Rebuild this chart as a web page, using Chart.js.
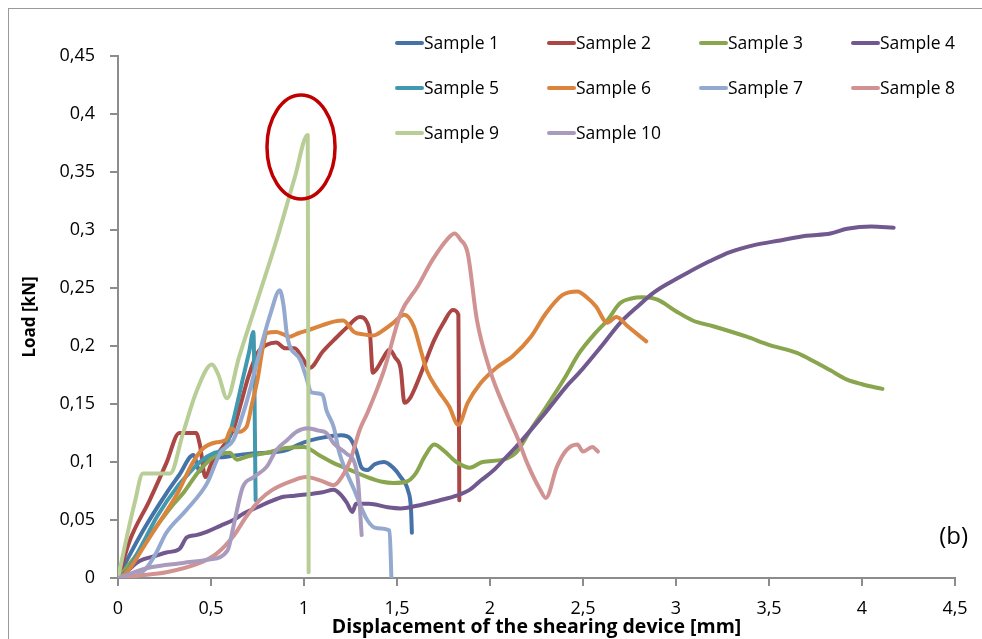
<!DOCTYPE html>
<html lang="en">
<head>
    <meta charset="UTF-8">
    <title>Load vs displacement</title>
    <script src="https://cdn.jsdelivr.net/npm/chart.js"></script>
    <style>
        body {
            margin: 0;
            padding: 0;
            background-color: #ffffff;
            overflow: hidden;
        }

        #frame {
            position: absolute;
            left: 8px;
            top: 8px;
            width: 1100px;
            height: 800px;
            border: 1px solid #9a9a9a;
            pointer-events: none;
        }

        canvas {
            position: absolute;
            left: 0;
            top: 0;
        }
    </style>
</head>
<body>
    <canvas id="chart" width="982" height="639"></canvas>
    <div id="frame"></div>

    <script>
        // data: [displacement mm, load kN]
        const sampleNames = ['Sample 1', 'Sample 2', 'Sample 3', 'Sample 4', 'Sample 5',
                             'Sample 6', 'Sample 7', 'Sample 8', 'Sample 9', 'Sample 10'];

        const sample1 = [[0,0],[0.05,0.016],[0.135,0.041],[0.26,0.073],[0.33,0.089],[0.405,0.106],[0.44,0.092],
            [0.48,0.103],[0.55,0.104],[0.6,0.105],[0.7,0.107],[0.8,0.108],[0.9,0.11],[1.0,0.117],[1.1,0.121],
            [1.2,0.123],[1.25,0.12],[1.28,0.11],[1.31,0.095],[1.34,0.093],[1.38,0.098],[1.43,0.1],[1.48,0.095],
            [1.52,0.087],[1.56,0.075],[1.575,0.06],[1.58,0.039]];

        const sample2 = [[0,0],[0.065,0.033],[0.17,0.067],[0.26,0.099],[0.33,0.125],[0.42,0.125],[0.44,0.115],
            [0.47,0.087],[0.5,0.098],[0.55,0.11],[0.62,0.128],[0.66,0.15],[0.7,0.173],[0.75,0.194],[0.8,0.201],
            [0.85,0.203],[0.9,0.198],[0.95,0.198],[0.99,0.19],[1.03,0.181],[1.1,0.195],[1.16,0.205],[1.23,0.216],
            [1.3,0.225],[1.34,0.22],[1.355,0.21],[1.37,0.177],[1.39,0.18],[1.42,0.188],[1.46,0.197],[1.49,0.19],
            [1.52,0.18],[1.54,0.151],[1.57,0.155],[1.6,0.165],[1.65,0.185],[1.7,0.205],[1.75,0.22],[1.8,0.231],
            [1.83,0.227],[1.835,0.067]];

        const sample3 = [[0,0],[0.1,0.02],[0.2,0.043],[0.3,0.064],[0.35,0.073],[0.44,0.093],[0.53,0.106],
            [0.6,0.108],[0.64,0.102],[0.7,0.105],[0.8,0.108],[0.9,0.112],[1.0,0.113],[1.08,0.106],[1.16,0.099],
            [1.25,0.093],[1.34,0.087],[1.42,0.083],[1.48,0.082],[1.55,0.083],[1.6,0.09],[1.65,0.105],[1.7,0.115],
            [1.75,0.11],[1.82,0.1],[1.89,0.095],[1.96,0.1],[2.07,0.102],[2.14,0.108],[2.22,0.128],[2.3,0.147],
            [2.4,0.172],[2.48,0.194],[2.56,0.21],[2.63,0.222],[2.7,0.237],[2.76,0.241],[2.82,0.242],[2.9,0.24],
            [3.0,0.23],[3.09,0.222],[3.2,0.217],[3.38,0.208],[3.5,0.201],[3.65,0.194],[3.75,0.186],[3.83,0.179],
            [3.92,0.171],[4.0,0.167],[4.11,0.163]];

        const sample4 = [[0,0],[0.05,0.006],[0.1,0.013],[0.135,0.016],[0.2,0.019],[0.26,0.022],[0.33,0.025],
            [0.37,0.035],[0.42,0.037],[0.48,0.04],[0.55,0.045],[0.62,0.05],[0.68,0.056],[0.75,0.061],[0.82,0.066],
            [0.89,0.07],[0.95,0.071],[1.01,0.072],[1.1,0.074],[1.16,0.076],[1.19,0.073],[1.23,0.065],[1.26,0.057],
            [1.28,0.064],[1.35,0.064],[1.45,0.061],[1.52,0.06],[1.6,0.062],[1.73,0.067],[1.82,0.071],[1.89,0.076],
            [1.95,0.084],[2.02,0.093],[2.08,0.103],[2.14,0.113],[2.3,0.143],[2.41,0.165],[2.48,0.177],[2.6,0.2],
            [2.7,0.22],[2.8,0.235],[2.88,0.246],[2.97,0.255],[3.06,0.263],[3.18,0.273],[3.29,0.281],[3.42,0.287],
            [3.56,0.291],[3.7,0.295],[3.83,0.297],[3.92,0.301],[4.05,0.303],[4.17,0.302]];

        const sample5 = [[0,0],[0.05,0.006],[0.1,0.02],[0.15,0.035],[0.21,0.053],[0.32,0.079],[0.38,0.09],
            [0.44,0.1],[0.52,0.108],[0.58,0.113],[0.62,0.136],[0.67,0.171],[0.705,0.195],[0.728,0.212],[0.74,0.067]];

        const sample6 = [[0,0],[0.04,0.004],[0.08,0.012],[0.15,0.03],[0.21,0.045],[0.32,0.073],[0.4,0.099],
            [0.46,0.112],[0.53,0.117],[0.58,0.119],[0.61,0.129],[0.64,0.126],[0.69,0.13],[0.72,0.15],[0.75,0.171],
            [0.78,0.2],[0.8,0.211],[0.85,0.212],[0.89,0.21],[0.92,0.208],[0.97,0.211],[1.03,0.214],[1.1,0.218],
            [1.16,0.221],[1.21,0.222],[1.27,0.212],[1.32,0.21],[1.37,0.209],[1.43,0.214],[1.48,0.22],[1.54,0.227],
            [1.59,0.217],[1.63,0.195],[1.66,0.179],[1.72,0.162],[1.78,0.148],[1.83,0.132],[1.88,0.151],[1.95,0.168],
            [2.04,0.182],[2.12,0.191],[2.22,0.208],[2.3,0.228],[2.39,0.244],[2.47,0.247],[2.52,0.242],[2.57,0.234],
            [2.63,0.22],[2.68,0.225],[2.74,0.217],[2.84,0.204]];

        const sample7 = [[0.08,0],[0.15,0.008],[0.2,0.02],[0.26,0.039],[0.37,0.059],[0.48,0.082],[0.55,0.108],
            [0.62,0.119],[0.69,0.151],[0.76,0.194],[0.82,0.228],[0.87,0.248],[0.89,0.235],[0.91,0.208],[0.98,0.188],
            [1.01,0.174],[1.04,0.16],[1.1,0.158],[1.12,0.145],[1.16,0.13],[1.19,0.108],[1.27,0.076],[1.34,0.05],
            [1.39,0.043],[1.46,0.041],[1.47,0]];

        const sample8 = [[0,0],[0.1,0.002],[0.26,0.005],[0.44,0.013],[0.53,0.021],[0.62,0.036],[0.69,0.053],
            [0.76,0.067],[0.83,0.076],[0.94,0.084],[1.01,0.087],[1.09,0.084],[1.16,0.08],[1.19,0.084],[1.25,0.102],
            [1.3,0.128],[1.34,0.142],[1.43,0.179],[1.52,0.228],[1.61,0.251],[1.69,0.274],[1.77,0.292],[1.81,0.297],
            [1.84,0.292],[1.88,0.28],[1.93,0.222],[2.0,0.179],[2.09,0.142],[2.15,0.12],[2.2,0.099],[2.27,0.076],
            [2.3,0.069],[2.36,0.096],[2.41,0.11],[2.47,0.115],[2.5,0.109],[2.55,0.113],[2.58,0.109]];

        const sample9 = [[0,0],[0.04,0.03],[0.09,0.065],[0.134,0.09],[0.2,0.09],[0.28,0.09],[0.35,0.125],
            [0.42,0.16],[0.505,0.184],[0.54,0.175],[0.586,0.155],[0.65,0.19],[0.726,0.228],[0.85,0.29],
            [0.95,0.345],[1.02,0.382],[1.025,0.005]];

        const sample10 = [[0,0],[0.17,0.009],[0.35,0.013],[0.49,0.016],[0.59,0.024],[0.62,0.044],[0.67,0.078],
            [0.73,0.087],[0.8,0.096],[0.85,0.11],[0.91,0.119],[0.96,0.126],[1.02,0.129],[1.08,0.127],[1.12,0.125],
            [1.16,0.116],[1.23,0.107],[1.27,0.1],[1.29,0.084],[1.31,0.037]];

        const xTickLabels = ['0', '0,5', '1', '1,5', '2', '2,5', '3', '3,5', '4', '4,5'];
        const yTickLabels = ['0', '0,05', '0,1', '0,15', '0,2', '0,25', '0,3', '0,35', '0,4', '0,45'];

        const allSamples = [sample1, sample2, sample3, sample4, sample5, sample6, sample7, sample8, sample9, sample10];
        const colors = ['#4572A7', '#AA4643', '#89A54E', '#71588F', '#4198AF',
                        '#DB843D', '#93A9CF', '#D19392', '#B9CD96', '#A99BBD'];

        const axisGray = '#8c8c8c';
        const font = '"Open Sans", sans-serif';

        // legend grid, red ellipse and the (b) mark
        const extras = {
            id: 'extras',
            afterDraw(chart) {
                const ctx = chart.ctx;
                const x = chart.scales.x;
                const y = chart.scales.y;
                ctx.save();

                ctx.font = '17.5px ' + font;
                ctx.textBaseline = 'middle';
                ctx.textAlign = 'left';
                chart.data.datasets.forEach((ds, i) => {
                    const lx = 395 + (i % 4) * 152;
                    const ly = 43 + Math.floor(i / 4) * 45;
                    ctx.strokeStyle = ds.borderColor;
                    ctx.lineWidth = 4;
                    ctx.lineCap = 'round';
                    ctx.beginPath();
                    ctx.moveTo(lx + 2, ly);
                    ctx.lineTo(lx + 27, ly);
                    ctx.stroke();
                    ctx.fillStyle = '#000';
                    ctx.fillText(ds.label, lx + 29, ly + 1);
                });

                // ellipse around the sample 9 peak
                const cx = x.getPixelForValue(0.984);
                const cy = y.getPixelForValue(0.3716);
                const rx = x.getPixelForValue(0.984 + 0.183) - cx;
                const ry = cy - y.getPixelForValue(0.3716 + 0.0448);
                ctx.strokeStyle = '#c00000';
                ctx.lineWidth = 3.5;
                ctx.beginPath();
                ctx.ellipse(cx, cy, rx, ry, 0, 0, Math.PI * 2);
                ctx.stroke();

                ctx.font = '24px ' + font;
                ctx.fillStyle = '#000';
                ctx.textAlign = 'right';
                ctx.fillText('(b)', 968, 537);
                ctx.restore();
            }
        };

        const datasets = allSamples.map((pts, i) => ({
            label: sampleNames[i],
            data: pts,
            borderColor: colors[i],
            backgroundColor: colors[i],
            borderWidth: 4,
            borderCapStyle: 'round',
            borderJoinStyle: 'round',
            pointRadius: 0,
            cubicInterpolationMode: 'monotone',
            fill: false,
            order: 10 - i
        }));

        const ctx = document.getElementById('chart').getContext('2d');

        new Chart(ctx, {
            type: 'line',
            data: { datasets: datasets },
            options: {
                responsive: false,
                animation: false,
                layout: { padding: { top: 56, right: 27, bottom: 0, left: 8 } },
                plugins: {
                    legend: { display: false },
                    tooltip: { enabled: false }
                },
                scales: {
                    x: {
                        type: 'linear',
                        min: 0,
                        max: 4.5,
                        afterFit: (scale) => { scale.height = 61; },
                        ticks: {
                            stepSize: 0.5,
                            padding: 12,
                            color: '#000',
                            font: { family: font, size: 18 },
                            callback: (v) => xTickLabels[Math.round(v / 0.5)]
                        },
                        grid: {
                            drawOnChartArea: false,
                            drawTicks: true,
                            tickLength: 8,
                            color: axisGray,
                            lineWidth: 2
                        },
                        border: { color: axisGray, width: 2 },
                        title: {
                            display: true,
                            text: 'Displacement of the shearing device [mm]',
                            color: '#000',
                            font: { family: font, size: 19.5, weight: 'bold' },
                            padding: { top: 0, bottom: 0 }
                        }
                    },
                    y: {
                        min: 0,
                        max: 0.45,
                        afterFit: (scale) => { scale.width = 110; },
                        ticks: {
                            stepSize: 0.05,
                            padding: 15,
                            color: '#000',
                            font: { family: font, size: 18 },
                            callback: (v) => yTickLabels[Math.round(v / 0.05)]
                        },
                        grid: {
                            drawOnChartArea: false,
                            drawTicks: true,
                            tickLength: 8,
                            color: axisGray,
                            lineWidth: 2
                        },
                        border: { color: axisGray, width: 2 },
                        title: {
                            display: true,
                            text: 'Load [kN]',
                            color: '#000',
                            font: { family: font, size: 17, weight: 'bold' },
                            padding: { top: 12, bottom: 0 }
                        }
                    }
                }
            },
            plugins: [extras]
        });
    </script>
</body>
</html>
